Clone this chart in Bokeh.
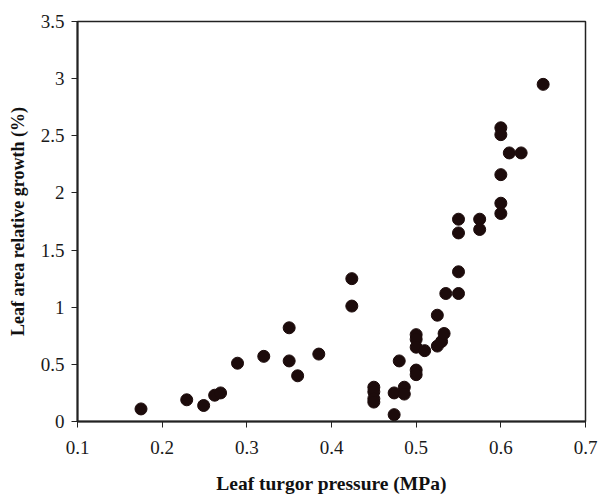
from bokeh.plotting import figure
from bokeh.models import Range1d, FixedTicker, ColumnDataSource
from bokeh.embed import file_html
from bokeh.resources import INLINE

turgor = [0.175, 0.229, 0.249, 0.262, 0.269, 0.289, 0.32, 0.35, 0.35, 0.36, 0.385,
          0.424, 0.424, 0.45, 0.45, 0.45, 0.45, 0.474, 0.474, 0.48, 0.486, 0.486,
          0.5, 0.5, 0.5, 0.5, 0.5, 0.51, 0.525, 0.525, 0.53, 0.533, 0.535,
          0.55, 0.55, 0.55, 0.55, 0.575, 0.575, 0.6, 0.6, 0.6, 0.61, 0.624,
          0.6, 0.6, 0.65]
growth = [0.11, 0.19, 0.14, 0.23, 0.25, 0.51, 0.57, 0.82, 0.53, 0.40, 0.59,
          1.25, 1.01, 0.30, 0.26, 0.20, 0.17, 0.06, 0.25, 0.53, 0.30, 0.24,
          0.76, 0.72, 0.65, 0.45, 0.41, 0.62, 0.93, 0.66, 0.70, 0.77, 1.12,
          1.12, 1.31, 1.77, 1.65, 1.77, 1.68, 1.91, 1.82, 2.16, 2.35, 2.35,
          2.57, 2.51, 2.95]
x_ticks = [0.1, 0.2, 0.3, 0.4, 0.5, 0.6, 0.7]
y_ticks = [0, 0.5, 1, 1.5, 2, 2.5, 3, 3.5]
x_label = "Leaf turgor pressure (MPa)"
y_label = "Leaf area relative growth (%)"

src = ColumnDataSource(dict(x=turgor, y=growth))

p = figure(width=599, height=496, output_backend="svg", toolbar_location=None,
           x_range=Range1d(0.1, 0.7), y_range=Range1d(0, 3.5),
           min_border_left=77, min_border_right=14, min_border_top=21, min_border_bottom=74)
p.scatter("x", "y", source=src, size=12, fill_color="#1c0b0b", line_color="#1c0b0b")

p.grid.visible = False
p.outline_line_color = "#222222"
p.outline_line_width = 1.5
p.background_fill_color = "white"
p.border_fill_color = "white"

p.xaxis.ticker = FixedTicker(ticks=x_ticks)
p.yaxis.ticker = FixedTicker(ticks=y_ticks)
p.xaxis.major_label_overrides = {t: ("%g" % t) for t in x_ticks}
p.yaxis.major_label_overrides = {t: ("%g" % t) for t in y_ticks}
for ax in (p.xaxis[0], p.yaxis[0]):
    ax.axis_line_color = "#222222"
    ax.axis_line_width = 2
    ax.major_tick_line_color = "#222222"
    ax.major_tick_out = 6
    ax.major_tick_in = 0
    ax.minor_tick_line_color = None
    ax.major_label_text_font = "Liberation Serif"
    ax.major_label_text_font_size = "19px"
    ax.major_label_text_color = "#1a1a1a"
    ax.axis_label_text_font = "Liberation Serif"
    ax.axis_label_text_font_style = "bold"
    ax.axis_label_text_color = "#111111"

p.xaxis.axis_label_text_font_size = "19.5px"
p.yaxis.axis_label_text_font_size = "18px"
p.xaxis.axis_label = x_label
p.yaxis.axis_label = y_label
p.xaxis.major_label_standoff = 13
p.yaxis.major_label_standoff = 7
p.xaxis.axis_label_standoff = 16
p.yaxis.axis_label_standoff = 10

open("out.html", "w").write(file_html(p, INLINE))
